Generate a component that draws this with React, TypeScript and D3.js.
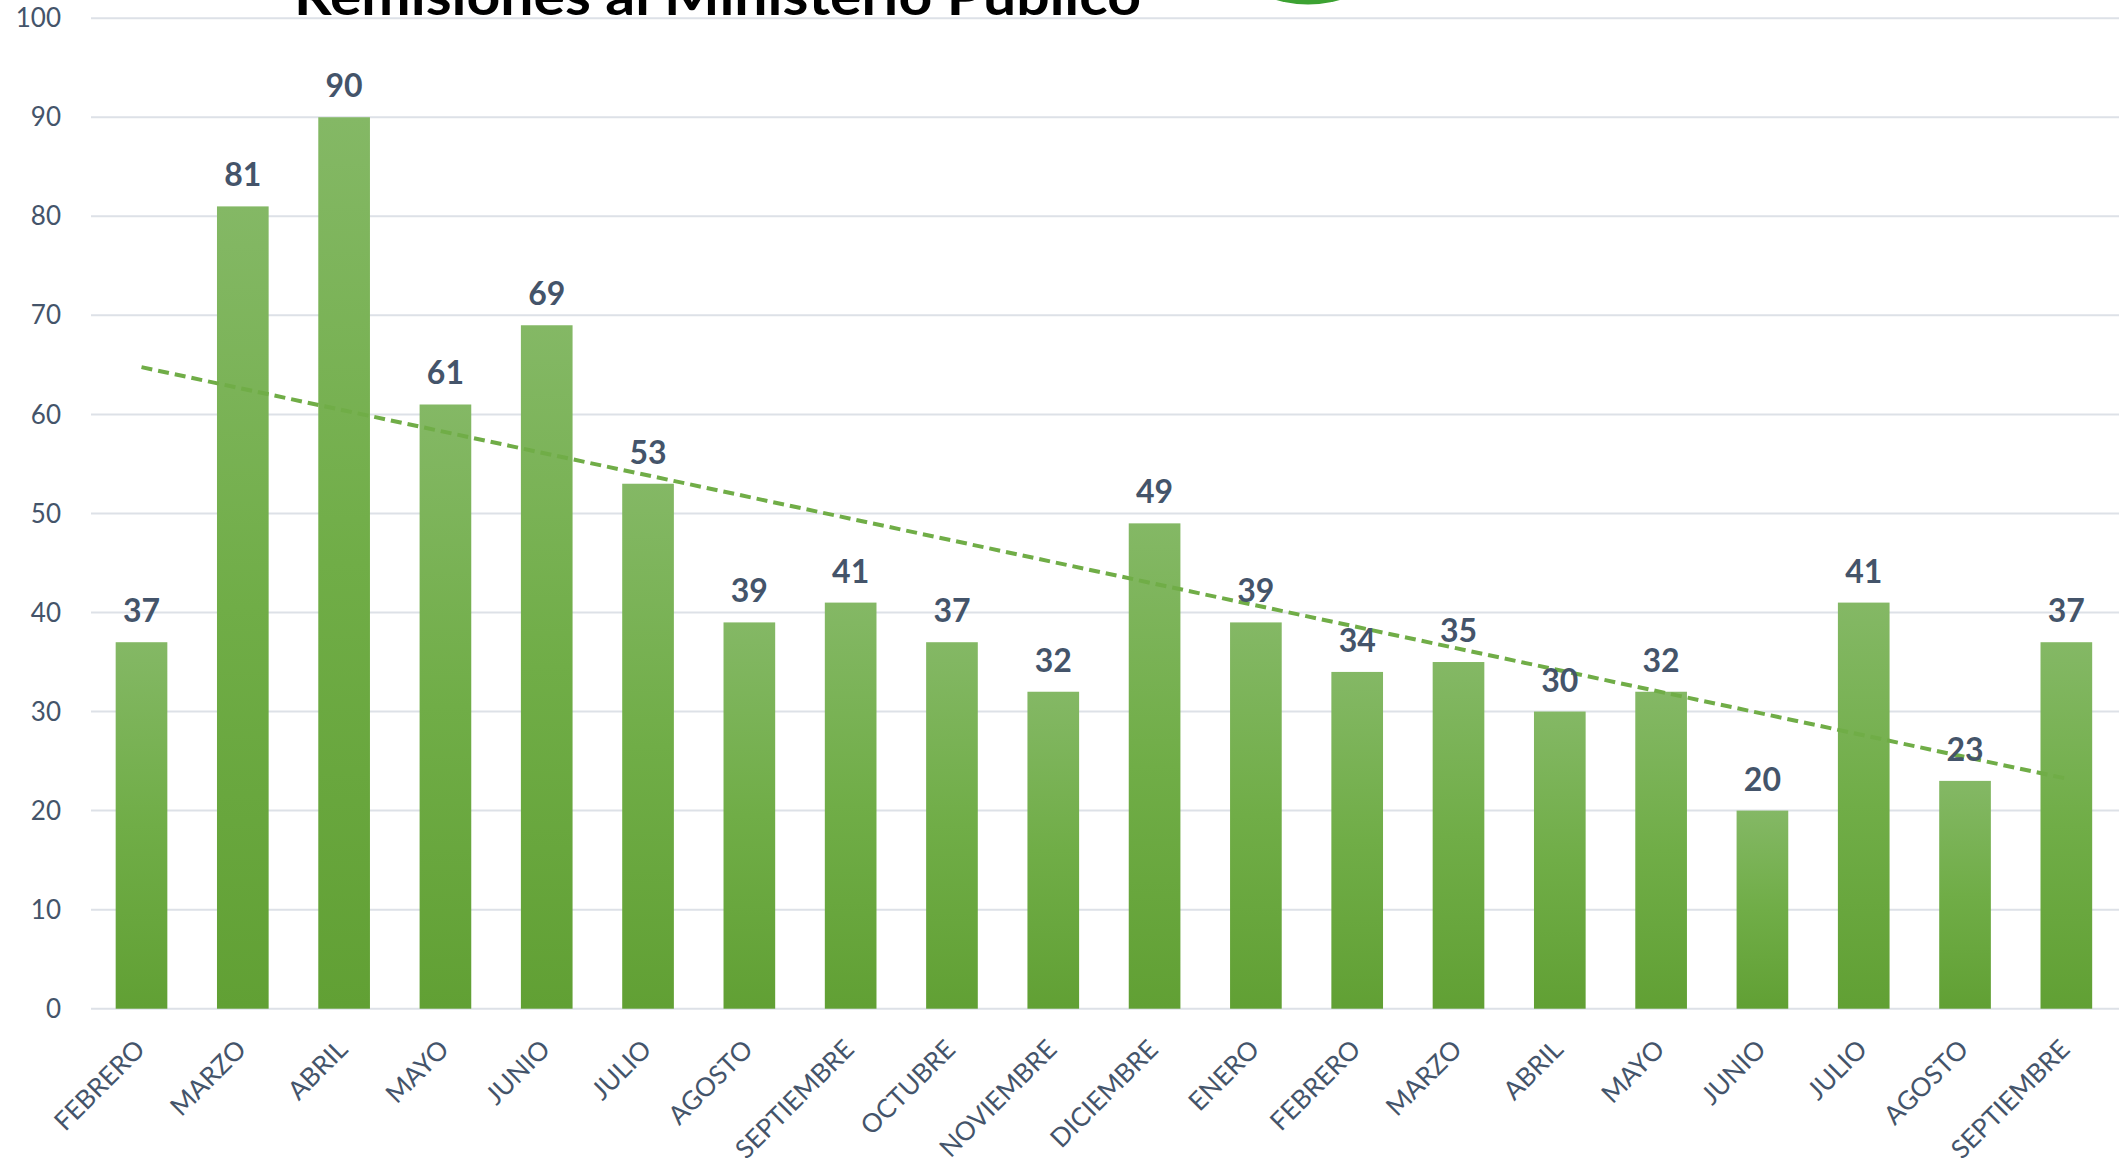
import React from "react";
import * as d3 from "d3";

const categories = [
  "FEBRERO", "MARZO", "ABRIL", "MAYO", "JUNIO", "JULIO", "AGOSTO", "SEPTIEMBRE",
  "OCTUBRE", "NOVIEMBRE", "DICIEMBRE", "ENERO", "FEBRERO", "MARZO", "ABRIL",
  "MAYO", "JUNIO", "JULIO", "AGOSTO", "SEPTIEMBRE",
];
const values = [37, 81, 90, 61, 69, 53, 39, 41, 37, 32, 49, 39, 34, 35, 30, 32, 20, 41, 23, 37];
const yTicks = [0, 10, 20, 30, 40, 50, 60, 70, 80, 90, 100];
const title = "Remisiones al Ministerio Público";

const W = 2119;
const H = 1166;
const FONT = "Lato, 'Open Sans', sans-serif";

export default function App() {
  const x = d3
    .scaleBand<number>()
    .domain(values.map((_, i) => i))
    .range([90.85, 2117])
    .paddingInner(0.49)
    .paddingOuter(0.245);
  const y = d3.scaleLinear().domain([0, 100]).range([1008.7, 18.2]);

  // linear trend line (least squares) computed from the series
  const n = values.length;
  const xs = values.map((_, i) => i + 1);
  const mx = d3.mean(xs) as number;
  const my = d3.mean(values) as number;
  const sxy = d3.sum(xs.map((xv, i) => (xv - mx) * (values[i] - my)));
  const sxx = d3.sum(xs.map((xv) => (xv - mx) * (xv - mx)));
  const slope = sxy / sxx;
  const intercept = my - slope * mx;
  const trendPts: [number, number][] = [0, n - 1].map((i) => [
    (x(i) as number) + x.bandwidth() / 2,
    y(intercept + slope * (i + 1)),
  ]);
  const line = d3.line();

  return (
    <svg
      width={W}
      height={H}
      style={{ position: "absolute", left: 0, top: 0, background: "#fff" }}
    >
      <defs>
        <linearGradient id="barGrad" x1="0" y1="0" x2="0" y2="1">
          <stop offset="0" stopColor="#84b865" />
          <stop offset="0.5" stopColor="#70ad47" />
          <stop offset="1" stopColor="#61a034" />
        </linearGradient>
      </defs>
      <rect x={0} y={0} width={W} height={H} fill="#fff" />

      {/* gridlines */}
      {yTicks.map((t) => (
        <line
          key={"g" + t}
          x1={91}
          x2={W}
          y1={y(t)}
          y2={y(t)}
          stroke="#dde1e7"
          strokeWidth={2}
        />
      ))}

      {/* y labels */}
      {yTicks.map((t) => (
        <text
          key={"yl" + t}
          x={61}
          y={y(t)}
          dy="0.35em"
          textAnchor="end"
          fontFamily={FONT}
          fontSize={26}
          fill="#44546a"
        >
          {t}
        </text>
      ))}

      {/* title */}
      <text
        x={294}
        y={15}
        fontFamily={FONT}
        fontWeight={700}
        fontSize={54}
        fill="#000"
        textLength={847}
        lengthAdjust="spacingAndGlyphs"
      >
        {title}
      </text>
      <circle cx={1308} cy={-110} r={114.5} fill="#3ca232" />

      {/* bars */}
      {values.map((v, i) => (
        <rect
          key={"b" + i}
          x={x(i)}
          y={y(v)}
          width={x.bandwidth()}
          height={y(0) - y(v)}
          fill="url(#barGrad)"
        />
      ))}

      {/* trend line */}
      <path
        d={line(trendPts) || ""}
        fill="none"
        stroke="#70ad47"
        strokeWidth={4}
        strokeDasharray="11 6"
      />

      {/* data labels */}
      {values.map((v, i) => (
        <text
          key={"dl" + i}
          x={(x(i) as number) + x.bandwidth() / 2}
          y={y(v) - 20}
          textAnchor="middle"
          fontFamily={FONT}
          fontWeight={700}
          fontSize={32}
          fill="#44546a"
        >
          {v}
        </text>
      ))}

      {/* x labels */}
      {categories.map((c, i) => {
        const cx = (x(i) as number) + x.bandwidth() / 2 + 5;
        const cy = 1051;
        return (
          <text
            key={"xl" + i}
            transform={`translate(${cx},${cy}) rotate(-45)`}
            textAnchor="end"
            fontFamily={FONT}
            fontSize={26}
            fill="#44546a"
          >
            {c}
          </text>
        );
      })}
    </svg>
  );
}
